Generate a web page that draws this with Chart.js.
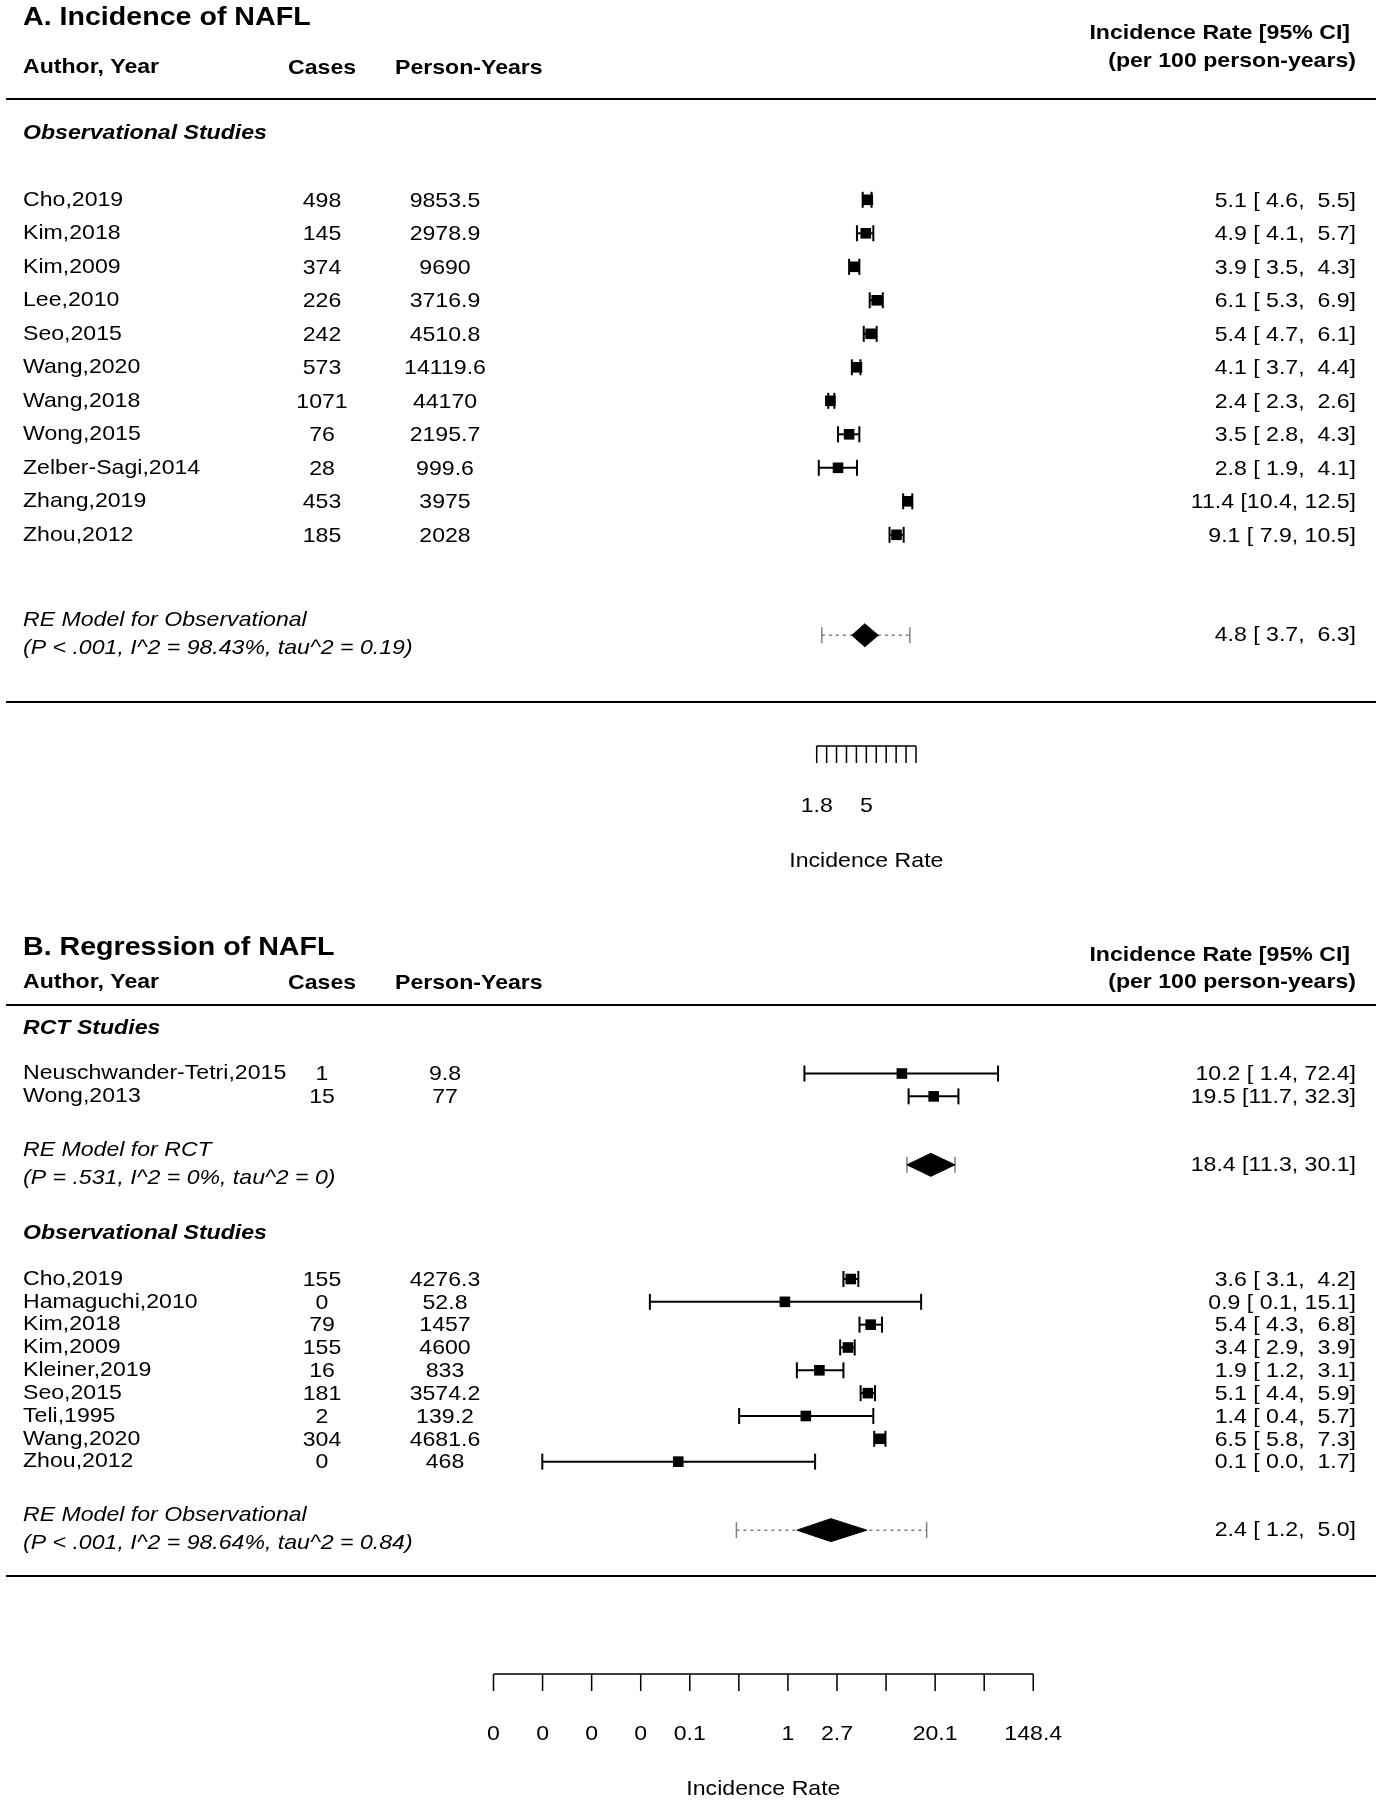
<!DOCTYPE html>
<html>
<head>
<meta charset="utf-8">
<title>Incidence and regression of NAFL</title>
<script src="https://cdn.jsdelivr.net/npm/chart.js@4.4.1/dist/chart.umd.min.js"></script>
<style>
    html, body { margin: 0; padding: 0; background: #ffffff; }
    .panel { position: relative; width: 1381px; height: 900px; }
    canvas { display: block; }
</style>
</head>
<body>
<div class="panel"><canvas id="chartA" width="1381" height="900"></canvas></div>
<div class="panel"><canvas id="chartB" width="1381" height="900"></canvas></div>

<script>
// ---- Panel A: incidence of NAFL (observational studies) ----
const studiesA = ['Cho,2019', 'Kim,2018', 'Kim,2009', 'Lee,2010', 'Seo,2015', 'Wang,2020',
    'Wang,2018', 'Wong,2015', 'Zelber-Sagi,2014', 'Zhang,2019', 'Zhou,2012'];
const casesA = [498, 145, 374, 226, 242, 573, 1071, 76, 28, 453, 185];
const personYearsA = ['9853.5', '2978.9', '9690', '3716.9', '4510.8', '14119.6', '44170', '2195.7', '999.6', '3975', '2028'];
const rateA = [5.1, 4.9, 3.9, 6.1, 5.4, 4.1, 2.4, 3.5, 2.8, 11.4, 9.1];
const lowerA = [4.6, 4.1, 3.5, 5.3, 4.7, 3.7, 2.3, 2.8, 1.9, 10.4, 7.9];
const upperA = [5.5, 5.7, 4.3, 6.9, 6.1, 4.4, 2.6, 4.3, 4.1, 12.5, 10.5];
const reObsA = [4.8, 3.7, 6.3];      // estimate, lower, upper
const piObsA = [2.02, 11.9];         // prediction interval
const ticksA = [0.6, 0.8, 1.0, 1.2, 1.4, 1.6, 1.8, 2.0, 2.2, 2.4, 2.6];   // ln(rate)
const tickLabelsA = ['1.8', '', '', '', '', '5', '', '', '', '', ''];

// ---- Panel B: regression of NAFL ----
const rctStudiesB = ['Neuschwander-Tetri,2015', 'Wong,2013'];
const rctCasesB = [1, 15];
const rctPersonYearsB = ['9.8', '77'];
const rctRateB = [10.2, 19.5];
const rctLowerB = [1.4, 11.7];
const rctUpperB = [72.4, 32.3];
const reRctB = [18.4, 11.3, 30.1];
const piRctB = [11.3, 30.1];

const obsStudiesB = ['Cho,2019', 'Hamaguchi,2010', 'Kim,2018', 'Kim,2009', 'Kleiner,2019',
    'Seo,2015', 'Teli,1995', 'Wang,2020', 'Zhou,2012'];
const obsCasesB = [155, 0, 79, 155, 16, 181, 2, 304, 0];
const obsPersonYearsB = ['4276.3', '52.8', '1457', '4600', '833', '3574.2', '139.2', '4681.6', '468'];
const obsRateB = [3.6, 0.94, 5.4, 3.4, 1.9, 5.1, 1.44, 6.5, 0.107];
const obsLowerB = [3.1, 0.06, 4.3, 2.9, 1.2, 4.4, 0.37, 5.8, 0.0067];
const obsUpperB = [4.2, 15.1, 6.8, 3.9, 3.1, 5.9, 5.7, 7.3, 1.74];
const reObsB = [2.4, 1.2, 5.0];
const piObsB = [0.35, 16.9];
const ticksB = [-6, -5, -4, -3, -2, -1, 0, 1, 2, 3, 4, 5];
const tickLabelsB = ['0', '0', '0', '0', '0.1', '', '1', '2.7', '', '20.1', '', '148.4'];


// ---- drawing helpers ----
const FONT = '"Liberation Sans", Arial, Helvetica, sans-serif';
const STRETCH = 1.1;   // the original type is a little wider than it is tall
const W = 1381, H = 900;
const COL = { name: 23, cases: 322, py: 445, ci: 1356, casesHead: 288, pyHead: 395 };

function fmt1(v) {
    return v.toFixed(1);
}

function ciLabel(est, lo, hi) {
    return fmt1(est) + ' [' + fmt1(lo).padStart(4, ' ') + ', ' + fmt1(hi).padStart(4, ' ') + ']';
}

function text(ctx, str, x, y, align, font) {
    ctx.save();
    ctx.font = font;
    ctx.fillStyle = '#000';
    ctx.textBaseline = 'middle';
    ctx.textAlign = align;
    ctx.translate(x, y);
    ctx.scale(STRETCH, 1);
    ctx.fillText(str, 0, 0);
    ctx.restore();
}

// CI segment with vertical end ticks
function ciSet(lo, hi, row, color, dashed) {
    return {
        type: 'line',
        data: [{ x: lo, y: row }, { x: hi, y: row }],
        borderColor: color,
        borderWidth: dashed ? 1.5 : 2,
        borderDash: dashed ? [3, 4] : [],
        pointStyle: 'line',
        pointRotation: 90,
        pointRadius: 8,
        pointBorderColor: color,
        pointBorderWidth: dashed ? 1.5 : 2,
        fill: false,
        order: dashed ? 3 : 2
    };
}

function diamondSet(re, row, half) {
    return {
        type: 'line',
        data: [
            { x: re[1], y: row }, { x: re[0], y: row - half },
            { x: re[2], y: row }, { x: re[0], y: row + half },
            { x: re[1], y: row }
        ],
        borderColor: '#000',
        backgroundColor: '#000',
        borderWidth: 1,
        pointRadius: 0,
        fill: 'shape',
        order: 0
    };
}

function makeDatasets(rows, rate, lower, upper, summaries, half) {
    const ds = [];
    rows.forEach((r, i) => ds.push(ciSet(lower[i], upper[i], r, '#000', false)));
    ds.push({
        type: 'scatter',
        data: rate.map((v, i) => ({ x: v, y: rows[i] })),
        pointStyle: 'rect',
        pointRadius: 7.5,
        backgroundColor: '#000',
        borderColor: '#000',
        borderWidth: 0,
        order: 0
    });
    summaries.forEach(s => {
        ds.push(ciSet(s.pi[0], s.pi[1], s.row, '#808080', true));
        ds.push(diamondSet(s.re, s.row, half));
    });
    return ds;
}

// table text, separators and the custom log axis
function tablePlugin(spec) {
    return {
        id: 'forestTable',
        afterDraw(chart) {
            const ctx = chart.ctx;
            const x = chart.scales.x;
            const y = chart.scales.y;
            const bold = 'bold 21px ' + FONT;
            const reg = '21px ' + FONT;
            const ital = 'italic 21px ' + FONT;

            text(ctx, spec.title, COL.name, spec.titleY, 'left', 'bold 26px ' + FONT);
            text(ctx, 'Author, Year', COL.name, spec.headY, 'left', bold);
            text(ctx, 'Cases', COL.casesHead, spec.headY + 1, 'left', bold);
            text(ctx, 'Person-Years', COL.pyHead, spec.headY + 1, 'left', bold);
            text(ctx, 'Incidence Rate [95% CI]', COL.ci - 6, spec.irY1, 'right', bold);
            text(ctx, '(per 100 person-years)', COL.ci, spec.irY2, 'right', bold);

            ctx.save();
            ctx.strokeStyle = '#000';
            ctx.lineWidth = 2;
            spec.sepRows.forEach(r => {
                const py = Math.round(y.getPixelForValue(r));
                ctx.beginPath();
                ctx.moveTo(6, py);
                ctx.lineTo(1376, py);
                ctx.stroke();
            });
            ctx.restore();

            spec.sections.forEach(s => text(ctx, s.text, COL.name, y.getPixelForValue(s.row), 'left', 'bold italic 21px ' + FONT));

            spec.studies.forEach(s => {
                const py = y.getPixelForValue(s.row);
                text(ctx, s.name, COL.name, py, 'left', reg);
                text(ctx, String(s.cases), COL.cases, py + 1, 'center', reg);
                text(ctx, s.py, COL.py, py + 1, 'center', reg);
                text(ctx, ciLabel(s.est, s.lo, s.hi), COL.ci, py + 1, 'right', reg);
            });

            spec.summaries.forEach(s => {
                const py = y.getPixelForValue(s.row);
                text(ctx, s.line1, COL.name, py - 15, 'left', ital);
                text(ctx, s.line2, COL.name, py + 13, 'left', ital);
                text(ctx, ciLabel(s.re[0], s.re[1], s.re[2]), COL.ci, py, 'right', reg);
            });

            // axis at the bottom (tick values are ln of the rate)
            const ay = spec.axisY;
            const px = spec.ticks.map(t => x.getPixelForValue(Math.exp(t)));
            ctx.save();
            ctx.strokeStyle = '#000';
            ctx.lineWidth = 1.5;
            ctx.beginPath();
            ctx.moveTo(px[0], ay);
            ctx.lineTo(px[px.length - 1], ay);
            px.forEach(p => {
                ctx.moveTo(p, ay);
                ctx.lineTo(p, ay + 17);
            });
            ctx.stroke();
            ctx.restore();
            px.forEach((p, i) => {
                if (spec.tickLabels[i]) text(ctx, spec.tickLabels[i], p, ay + 60, 'center', reg);
            });
            text(ctx, 'Incidence Rate', (px[0] + px[px.length - 1]) / 2, ay + 115, 'center', reg);
        }
    };
}

function makeChart(id, layout, datasets, spec) {
    return new Chart(document.getElementById(id), {
        type: 'scatter',
        data: { datasets: datasets },
        options: {
            responsive: false,
            animation: false,
            events: [],
            layout: { padding: 0, autoPadding: false },
            plugins: {
                legend: { display: false },
                tooltip: { enabled: false }
            },
            scales: {
                x: {
                    type: 'logarithmic',
                    display: false,
                    bounds: 'data',
                    min: Math.exp(layout.lnMin),
                    max: Math.exp(layout.lnMin + W / layout.pxPerLn)
                },
                y: {
                    type: 'linear',
                    display: false,
                    reverse: true,
                    bounds: 'data',
                    min: -layout.rowTop / layout.rowStep,
                    max: (H - layout.rowTop) / layout.rowStep
                }
            }
        },
        plugins: [tablePlugin(spec)]
    });
}


// ---- Panel A ----
const layoutA = { rowTop: 199.8, rowStep: 33.5, lnMin: -15.849, pxPerLn: 49.65 };
const rowsA = studiesA.map((_, i) => i);
const sumA = [{
    row: 13, re: reObsA, pi: piObsA,
    line1: 'RE Model for Observational',
    line2: '(P < .001, I^2 = 98.43%, tau^2 = 0.19)'
}];
const specA = {
    title: 'A. Incidence of NAFL',
    titleY: 18, headY: 67, irY1: 33, irY2: 61,
    sepRows: [-3, 15],
    sections: [{ text: 'Observational Studies', row: -2 }],
    studies: studiesA.map((n, i) => ({
        name: n, cases: casesA[i], py: personYearsA[i],
        est: rateA[i], lo: lowerA[i], hi: upperA[i], row: rowsA[i]
    })),
    summaries: sumA,
    axisY: 746, ticks: ticksA, tickLabels: tickLabelsA
};
makeChart('chartA', layoutA,
    makeDatasets(rowsA, rateA, lowerA, upperA, sumA, 11.5 / layoutA.rowStep), specA);


// ---- Panel B ----
const layoutB = { rowTop: 379, rowStep: 22.83, lnMin: -16.057, pxPerLn: 49.07 };
const rctRowsB = [-9, -8];
const obsRowsB = obsStudiesB.map((_, i) => i);
const sumB = [
    { row: -5, re: reRctB, pi: piRctB, line1: 'RE Model for RCT', line2: '(P = .531, I^2 = 0%, tau^2 = 0)' },
    { row: 11, re: reObsB, pi: piObsB, line1: 'RE Model for Observational', line2: '(P < .001, I^2 = 98.64%, tau^2 = 0.84)' }
];
const namesB = rctStudiesB.concat(obsStudiesB);
const casesB = rctCasesB.concat(obsCasesB);
const pyB = rctPersonYearsB.concat(obsPersonYearsB);
const rateB = rctRateB.concat(obsRateB);
const lowerB = rctLowerB.concat(obsLowerB);
const upperB = rctUpperB.concat(obsUpperB);
const rowsB = rctRowsB.concat(obsRowsB);
const specB = {
    title: 'B. Regression of NAFL',
    titleY: 48, headY: 82, irY1: 55, irY2: 82,
    sepRows: [-12, 13],
    sections: [{ text: 'RCT Studies', row: -11 }, { text: 'Observational Studies', row: -2 }],
    studies: namesB.map((n, i) => ({
        name: n, cases: casesB[i], py: pyB[i],
        est: rateB[i], lo: lowerB[i], hi: upperB[i], row: rowsB[i]
    })),
    summaries: sumB,
    axisY: 774, ticks: ticksB, tickLabels: tickLabelsB
};
makeChart('chartB', layoutB,
    makeDatasets(rowsB, rateB, lowerB, upperB, sumB, 11.5 / layoutB.rowStep), specB);
</script>
</body>
</html>
